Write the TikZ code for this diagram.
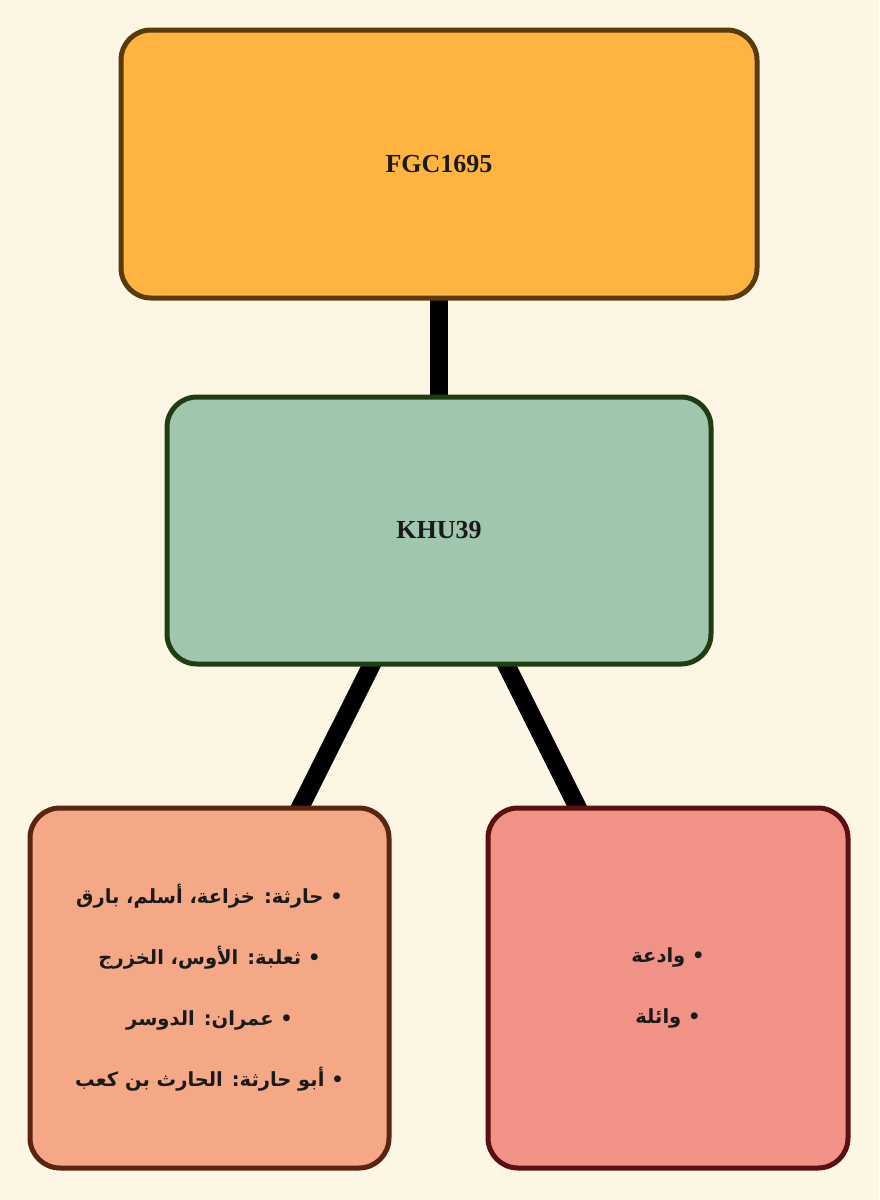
\documentclass[tikz,border=0pt]{standalone}
\usepackage{fontspec}
\setmainfont{Liberation Serif}
\newfontfamily\arabicfont[Script=Arabic]{DejaVu Sans}
\TeXXeTstate=1
\pgfdeclarelayer{back}
\pgfdeclarelayer{edges}
\pgfsetlayers{back,edges,main}
\definecolor{bgc}{HTML}{FEF6E4}
\definecolor{topfill}{HTML}{FFB340}
\definecolor{topdraw}{HTML}{5A3A0A}
\definecolor{midfill}{HTML}{A0C6AE}
\definecolor{middraw}{HTML}{1F3D10}
\definecolor{lfill}{HTML}{F4A886}
\definecolor{ldraw}{HTML}{5A2410}
\definecolor{rfill}{HTML}{F09386}
\definecolor{rdraw}{HTML}{5A1010}
\definecolor{txt}{HTML}{1A1A1A}
\tikzset{
  box/.style={rectangle, rounded corners=30pt, line width=5pt, inner sep=0pt, align=center, text=txt},
  link/.style={line width=18pt, black},
  lbl/.style={font=\bfseries\fontsize{26}{30}\selectfont},
  ar/.style={font=\arabicfont\bfseries\fontsize{19.5}{61}\selectfont},
}
\begin{document}
\begin{tikzpicture}[x=1pt,y=-1pt]
\begin{pgfonlayer}{back}
\fill[bgc] (0,0) rectangle (879,1200);
\end{pgfonlayer}
\useasboundingbox (0,0) rectangle (879,1200);
\node[box, lbl, fill=topfill, draw=topdraw, minimum width=636pt, minimum height=268pt] (top) at (439,164) {FGC1695};
\node[box, lbl, fill=midfill, draw=middraw, minimum width=544pt, minimum height=267pt] (mid) at (439,530.5) {KHU39};
\node[box, ar, fill=lfill, draw=ldraw, minimum width=359pt, minimum height=360pt] (left) at (209.5,988)
 {\beginR • حارثة: خزاعة، أسلم، بارق\endR\\
  \beginR • ثعلبة: الأوس، الخزرج\endR\\
  \beginR • عمران: الدوسر\endR\\
  \beginR • أبو حارثة: الحارث بن كعب\endR};
\node[box, ar, fill=rfill, draw=rdraw, minimum width=360pt, minimum height=360pt] (right) at (668,988)
 {\beginR • وادعة\endR\\
  \beginR • وائلة\endR};
\begin{pgfonlayer}{edges}
\draw[link] (top.center) -- (mid.center);
\draw[link] (mid.center) -- (left.center);
\draw[link] (mid.center) -- (right.center);
\end{pgfonlayer}
\end{tikzpicture}
\end{document}
